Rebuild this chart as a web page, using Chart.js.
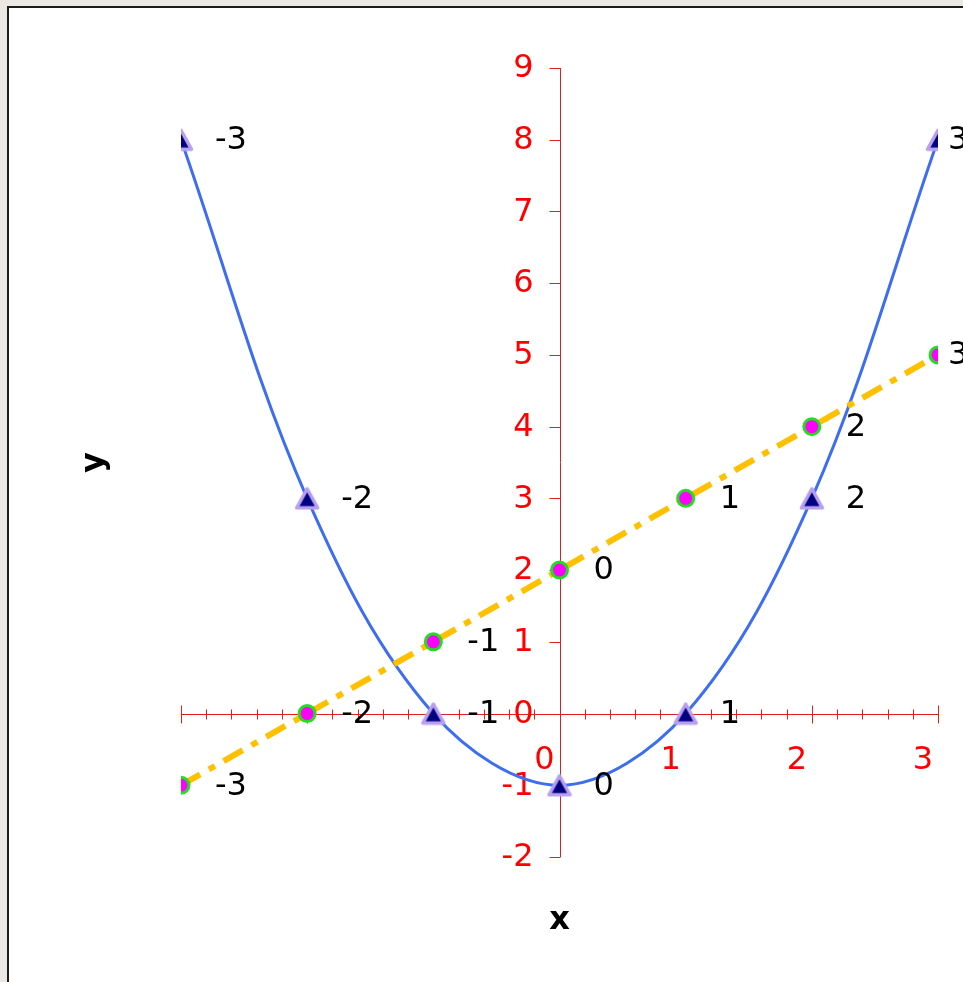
<!DOCTYPE html>
<html>
<head>
<meta charset="utf-8">
<title>y = x² − 1 and y = x + 2</title>
<script src="https://cdn.jsdelivr.net/npm/chart.js@4.4.1/dist/chart.umd.min.js"></script>
<style>
  html, body { margin: 0; padding: 0; background: #ebe7e3; overflow: hidden; }
  #frame { position: absolute; left: 7px; top: 6px; width: 1000px; height: 1000px; border: 2px solid #1c1c1c; background: #fff; }
  #chart { position: absolute; left: 0; top: 0; }
</style>
</head>
<body>
<div id="frame"></div>
<canvas id="chart" width="963" height="982"></canvas>
<script>
// x values, and the two curves
const xValues = [-3, -2, -1, 0, 1, 2, 3];
const parabolaY = [8, 3, 0, -1, 0, 3, 8];   // y = x² - 1, triangles
const lineY = [-1, 0, 1, 2, 3, 4, 5];       // y = x + 2, circles
const pointLabels = ['-3', '-2', '-1', '0', '1', '2', '3'];
const xTickLabels = ['0', '1', '2', '3'];   // only these are shown under the x axis
const yTickLabels = ['-2', '-1', '0', '1', '2', '3', '4', '5', '6', '7', '8', '9'];

const RED = '#ff0000';
const AXIS_RED = '#e02020';
const FONT = 'DejaVu Sans';
const LABEL_DX = 34;      // data label distance right of its point
const LABEL_MAX_X = 948;  // labels are pulled back so they stay inside the frame

const isWhole = v => Math.abs(v - Math.round(v)) < 1e-6;
const crisp = v => Math.round(v) + 0.5;

// triangle marker centred on its box (the built-in one sits on its circumcentre)
function triangleMarker() {
  const c = document.createElement('canvas');
  c.width = 26; c.height = 24;
  const g = c.getContext('2d');
  g.beginPath();
  g.moveTo(13, 2.5);
  g.lineTo(23.5, 21.5);
  g.lineTo(2.5, 21.5);
  g.closePath();
  g.fillStyle = '#000080';
  g.fill();
  g.lineJoin = 'round';
  g.lineWidth = 3.5;
  g.strokeStyle = '#b8a0f0';
  g.stroke();
  return c;
}

// the axes cross in the middle, so their lines, ticks and labels are drawn
// here from the scales' own ticks and pixel mapping
const crossAxes = {
  id: 'crossAxes',
  beforeDatasetsDraw(chart) {
    const { ctx, chartArea: a, scales: { x, y } } = chart;
    const x0 = crisp(x.getPixelForValue(0));
    const y0 = crisp(y.getPixelForValue(0));
    ctx.save();
    ctx.strokeStyle = AXIS_RED;
    ctx.lineWidth = 1;
    ctx.beginPath();
    ctx.moveTo(a.left, y0); ctx.lineTo(a.right, y0);
    ctx.moveTo(x0, a.top); ctx.lineTo(x0, a.bottom);
    ctx.stroke();
    // x ticks cross the axis line: long at whole numbers, short in between
    for (const t of x.ticks) {
      const px = crisp(x.getPixelForValue(t.value));
      const len = isWhole(t.value) ? 9 : 5;
      ctx.beginPath();
      ctx.moveTo(px, y0 - len);
      ctx.lineTo(px, y0 + len);
      ctx.stroke();
    }
    // y ticks stick out to the left
    for (const t of y.ticks) {
      const py = crisp(y.getPixelForValue(t.value));
      ctx.beginPath();
      ctx.moveTo(x0 - 11, py);
      ctx.lineTo(x0, py);
      ctx.stroke();
    }
    ctx.font = `32px "${FONT}"`;
    ctx.fillStyle = RED;
    ctx.textBaseline = 'middle';
    ctx.textAlign = 'center';
    for (const t of x.ticks) {
      if (!isWhole(t.value)) continue;
      const s = String(Math.round(t.value));
      if (!xTickLabels.includes(s)) continue;
      ctx.fillText(s, x.getPixelForValue(t.value) - 15, y0 + 46);
    }
    ctx.textAlign = 'right';
    for (const t of y.ticks) {
      const s = String(Math.round(t.value));
      if (!yTickLabels.includes(s)) continue;
      ctx.fillText(s, x0 - 27, y.getPixelForValue(t.value) + 1);
    }
    ctx.restore();
  }
};

// black labels with the x value to the right of every marker
const pointText = {
  id: 'pointText',
  afterDatasetsDraw(chart) {
    const { ctx } = chart;
    ctx.save();
    ctx.font = `32px "${FONT}"`;
    ctx.fillStyle = '#000';
    ctx.textAlign = 'left';
    ctx.textBaseline = 'middle';
    chart.data.datasets.forEach((ds, i) => {
      chart.getDatasetMeta(i).data.forEach((pt, j) => {
        ctx.fillText(pointLabels[j], Math.min(pt.x + LABEL_DX, LABEL_MAX_X), pt.y + 1);
      });
    });
    ctx.restore();
  }
};

new Chart(document.getElementById('chart'), {
  type: 'scatter',
  data: {
    datasets: [
      {
        label: 'y = x² - 1',
        data: xValues.map((x, i) => ({ x, y: parabolaY[i] })),
        showLine: true,
        tension: 0.35,
        borderColor: '#3d6df0',
        borderWidth: 3,
        pointStyle: triangleMarker(),
        pointRadius: 12,
        order: 2
      },
      {
        label: 'y = x + 2',
        data: xValues.map((x, i) => ({ x, y: lineY[i] })),
        showLine: true,
        tension: 0,
        borderColor: '#ffc000',
        borderWidth: 6,
        borderDash: [22, 10, 7, 10],
        pointStyle: 'circle',
        pointRadius: 8,
        pointBorderWidth: 3,
        pointBackgroundColor: '#ff00ff',
        pointBorderColor: '#22dd22',
        order: 1
      }
    ]
  },
  options: {
    responsive: false,
    animation: false,
    layout: { padding: { left: 71.8, right: 25, top: 68, bottom: 41.8 } },
    plugins: { legend: { display: false }, tooltip: { enabled: false } },
    scales: {
      x: {
        type: 'linear',
        position: { y: 0 },
        min: -3, max: 3,
        grid: { display: false },
        border: { display: false },
        ticks: { display: false, stepSize: 0.2, autoSkip: false }
      },
      y: {
        type: 'linear',
        position: { x: 0 },
        min: -2, max: 9,
        grid: { display: false },
        border: { display: false },
        ticks: { display: false, stepSize: 1 }
      },
      // outer axes carry only the titles
      xTitle: {
        type: 'linear',
        position: 'bottom',
        grid: { display: false, drawTicks: false },
        border: { display: false },
        ticks: { display: false },
        title: { display: true, text: 'x', color: '#000', padding: { top: 44.8, bottom: 0 }, font: { family: FONT, size: 32, weight: 'bold' } }
      },
      yTitle: {
        type: 'linear',
        position: 'left',
        grid: { display: false, drawTicks: false },
        border: { display: false },
        ticks: { display: false },
        title: { display: true, text: 'y', color: '#000', padding: { top: 4, bottom: 66.8 }, font: { family: FONT, size: 32, weight: 'bold' } }
      }
    }
  },
  plugins: [crossAxes, pointText]
});
</script>
</body>
</html>
